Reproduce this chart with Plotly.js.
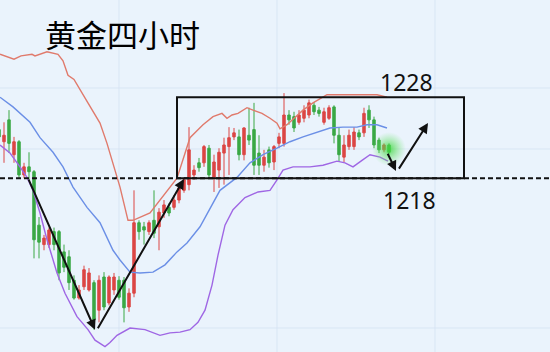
<!DOCTYPE html>
<html>
<head>
<meta charset="utf-8">
<script src="https://cdn.plot.ly/plotly-3.0.1.min.js"></script>
<style>html,body{margin:0;padding:0;background:#eaf3fc;}#chart{width:550px;height:352px;}</style>
</head>
<body>
<div id="chart"></div>
<script>
// ---- data (4-hour gold candles) ----
const candleOpen = [
  1224.0,1222.5,1225.2,1220.9,1222.5,1218.4,1219.4,1218.8,1212.2,1209.8,
  1209.8,1211.4,1211.4,1208.9,1208.3,1205.4,1203.2,1204.6,1204.2,1205.1,
  1201.7,1205.8,1202.6,1204.2,1205.4,1205.4,1202.1,1203.8,1212.5,1212.0,
  1211.4,1212.8,1212.0,1213.7,1214.4,1214.4,1215.3,1216.5,1217.2,1218.4,
  1219.9,1219.9,1221.7,1218.1,1219.0,1221.1,1221.9,1223.1,1223.1,1220.9,
  1223.3,1224.0,1221.1,1219.6,1221.5,1220.0,1222.3,1222.3,1225.8,1225.6,
  1224.9,1225.4,1225.8,1227.0,1226.4,1224.9,1225.4,1226.8,1223.3,1220.6,
  1221.9,1221.9,1223.6,1223.6,1226.4,1225.2,1222.7,1221.5,1222.1];
const candleHigh = [
  1224.6,1224.9,1226.4,1223.1,1222.7,1219.9,1221.2,1219.0,1213.2,1211.0,
  1211.9,1211.9,1211.6,1209.8,1209.1,1206.0,1204.8,1207.2,1206.9,1205.4,
  1206.0,1206.4,1206.0,1206.3,1205.9,1205.8,1204.4,1216.5,1212.8,1212.6,
  1212.8,1216.5,1214.3,1215.3,1214.9,1215.9,1217.2,1218.1,1224.3,1219.6,
  1220.5,1222.1,1222.1,1220.9,1221.7,1223.0,1224.3,1224.2,1224.0,1224.3,
  1226.7,1227.3,1223.3,1221.5,1221.9,1222.1,1223.6,1228.5,1226.4,1226.2,
  1226.4,1227.0,1227.7,1227.4,1226.8,1226.7,1227.0,1227.0,1224.3,1223.3,
  1224.0,1224.3,1224.0,1226.7,1227.0,1225.6,1223.0,1222.3,1222.3];
const candleLow = [
  1222.7,1219.9,1221.1,1219.9,1218.0,1218.0,1217.8,1208.1,1208.1,1209.1,
  1209.4,1209.1,1205.4,1206.4,1204.2,1203.0,1203.0,1204.2,1204.0,1199.3,
  1200.2,1201.7,1202.3,1203.6,1203.0,1200.2,1201.5,1203.3,1210.4,1209.8,
  1211.0,1210.6,1209.1,1213.1,1213.3,1214.1,1214.9,1216.2,1216.5,1217.8,
  1218.8,1219.4,1218.0,1216.3,1216.8,1217.2,1218.4,1222.7,1220.2,1220.2,
  1222.1,1218.4,1218.4,1218.8,1219.3,1219.0,1221.7,1221.9,1224.6,1223.7,
  1224.6,1224.9,1225.4,1225.8,1225.6,1224.6,1225.2,1222.3,1220.0,1220.0,
  1221.5,1221.5,1222.7,1223.1,1224.2,1221.7,1221.1,1221.2,1220.9];
const candleClose = [
  1223.1,1223.3,1222.3,1222.5,1218.4,1219.4,1218.8,1210.4,1210.1,1210.6,
  1211.6,1209.8,1206.3,1207.0,1205.1,1203.2,1204.2,1206.7,1206.3,1200.5,
  1205.4,1202.1,1205.8,1205.8,1203.3,1202.0,1203.8,1212.5,1211.4,1211.6,
  1212.5,1211.2,1213.8,1214.7,1213.7,1215.3,1216.8,1217.8,1221.5,1219.0,
  1219.3,1221.9,1218.4,1220.0,1221.2,1222.1,1223.0,1223.6,1220.9,1224.2,
  1222.7,1219.6,1219.6,1220.6,1219.9,1221.9,1223.1,1225.8,1225.2,1224.2,
  1225.8,1226.4,1227.3,1226.2,1226.0,1226.2,1226.7,1223.3,1220.9,1222.1,
  1223.3,1223.7,1223.1,1226.0,1225.2,1222.1,1221.5,1222.1,1221.2];
const candleIdx = candleOpen.map((_, i) => i);

// Bollinger bands (candle index, price)
const upperX = [0.2,3.0,4.4,6.6,7.2,9.6,11.8,12.8,13.8,15.0,17.4,20.2,21.6,23.2,24.2,25.8,26.8,30.2,32.2,33.8,35.6,38.2,40.8,42.8,44.6,45.6,46.6,47.8,49.6,50.8,52.6,54.2,55.6,56.2,57.6,60.8,62.8,65.6,68.8,72.2,75.6,77.6];
const upperY = [1233.3,1232.7,1233.1,1233.3,1233.1,1233.6,1233.3,1232.5,1230.7,1230.2,1227.7,1224.8,1222.3,1219.0,1216.9,1212.8,1212.8,1213.7,1215.3,1216.5,1218.0,1223.0,1224.6,1225.6,1226.0,1225.4,1225.8,1226.0,1226.7,1226.4,1226.0,1225.4,1224.8,1224.1,1224.6,1226.4,1227.3,1228.3,1228.3,1228.3,1228.3,1228.0];
const midX = [0.2,2.8,6.2,8.2,10.8,12.8,14.8,17.6,20.2,22.8,24.2,26.2,28.2,30.8,33.2,35.6,37.6,40.2,44.2,47.6,50.2,52.8,55.6,58.2,60.8,63.6,66.2,68.8,71.6,73.6,75.6,77.6];
const midY = [1228.0,1226.8,1224.9,1223.0,1221.2,1219.4,1216.9,1214.4,1212.5,1209.1,1207.9,1206.4,1206.3,1206.4,1207.3,1208.9,1210.0,1212.0,1216.5,1218.1,1219.9,1220.9,1221.7,1222.5,1223.1,1223.7,1224.2,1224.3,1224.3,1224.6,1224.6,1224.2];
const lowerX = [0.2,2.2,4.2,5.6,6.8,8.2,9.6,11.6,13.2,15.6,17.8,19.2,21.2,22.2,23.6,26.2,29.2,32.2,34.2,36.2,38.2,39.8,41.2,42.6,43.8,45.2,46.8,49.2,51.8,54.2,55.6,56.8,58.8,62.2,64.8,67.6,69.2,70.8,72.6,74.2,76.2,77.8];
const lowerY = [1222.1,1221.1,1219.4,1218.1,1216.5,1213.7,1210.4,1206.3,1203.8,1200.9,1199.3,1198.0,1197.2,1197.7,1198.6,1199.5,1199.3,1198.6,1198.9,1199.0,1199.3,1200.2,1201.7,1204.8,1208.5,1212.2,1214.1,1215.6,1216.3,1216.5,1217.8,1219.0,1219.4,1219.4,1219.6,1220.1,1219.9,1219.4,1220.2,1220.9,1220.6,1220.1];

const titleText = '黄金四小时';
const resistance = 1228;
const support = 1218;
const levelLabels = ['1228', '1218'];

// ---- traces ----
const lastI = candleIdx.length - 1;
const traces = [
  {type:'scatter', mode:'lines', x:upperX, y:upperY, line:{color:'#e07a6c', width:1.4}, hoverinfo:'skip'},
  {type:'scatter', mode:'lines', x:midX, y:midY, line:{color:'#6b8fe6', width:1.4}, hoverinfo:'skip'},
  {type:'scatter', mode:'lines', x:lowerX, y:lowerY, line:{color:'#9f66e4', width:1.4}, hoverinfo:'skip'},
  // soft glow on the latest candle: radial gradient, gradient.color is the centre colour
  {type:'scatter', mode:'markers', x:[candleIdx[lastI]], y:[candleClose[lastI] + 0.4],
   marker:{size:34, color:'rgba(120,230,120,0)',
           gradient:{type:'radial', color:'rgba(60,215,60,0.85)'}, line:{width:0, color:'rgba(0,0,0,0)'}}, hoverinfo:'skip'},
  {type:'candlestick', x:candleIdx, open:candleOpen, high:candleHigh, low:candleLow, close:candleClose,
   increasing:{line:{color:'#dc4644', width:1}, fillcolor:'#dc4644'},
   decreasing:{line:{color:'#3aa845', width:1}, fillcolor:'#3aa845'},
   whiskerwidth:0, hoverinfo:'skip'}
];

const grid = 'rgba(212,226,242,0.8)';
const layout = {
  width:550, height:352,
  margin:{l:0, r:0, t:0, b:0},
  paper_bgcolor:'#eaf3fc', plot_bgcolor:'#eaf3fc',
  showlegend:false,
  xaxis:{range:[0.2,110.2], visible:false, showgrid:false, zeroline:false, rangeslider:{visible:false}, fixedrange:true},
  yaxis:{range:[1196.54,1240], visible:false, showgrid:false, zeroline:false, fixedrange:true},
  shapes:[
    {type:'line', xref:'paper', yref:'paper', x0:119/550, x1:119/550, y0:0, y1:1, line:{color:grid, width:1}, layer:'below'},
    {type:'line', xref:'paper', yref:'paper', x0:277/550, x1:277/550, y0:0, y1:1, line:{color:grid, width:1}, layer:'below'},
    {type:'line', xref:'paper', yref:'paper', x0:435/550, x1:435/550, y0:0, y1:1, line:{color:grid, width:1}, layer:'below'},
    {type:'line', xref:'paper', yref:'paper', x0:0, x1:1, y0:1-88/352, y1:1-88/352, line:{color:grid, width:1}, layer:'below'},
    {type:'line', xref:'paper', yref:'paper', x0:0, x1:1, y0:1-149/352, y1:1-149/352, line:{color:grid, width:1}, layer:'below'},
    {type:'line', xref:'paper', yref:'paper', x0:0, x1:1, y0:1-328/352, y1:1-328/352, line:{color:grid, width:1}, layer:'below'},
    {type:'line', xref:'paper', yref:'y', x0:0, x1:1, y0:support, y1:support, line:{color:'#111', width:2, dash:'5px,3px'}},
    {type:'rect', xref:'x', yref:'y', x0:35.6, x1:93.0, y0:support, y1:resistance, line:{color:'#111', width:2}, fillcolor:'rgba(0,0,0,0)'}
  ],
  annotations:[
    {xref:'paper', yref:'paper', x:122/550, y:1-34/352, text:titleText, showarrow:false,
     font:{family:'Noto Sans CJK SC', size:31, color:'#000'}, xanchor:'center', yanchor:'middle'},
    {xref:'x', yref:'y', x:81.4, y:resistance+1.9, text:levelLabels[0], showarrow:false,
     font:{family:'Noto Sans, DejaVu Sans', size:23, color:'#111'}, xanchor:'center', yanchor:'middle'},
    {xref:'x', yref:'y', x:82.0, y:support-2.7, text:levelLabels[1], showarrow:false,
     font:{family:'Noto Sans, DejaVu Sans', size:23, color:'#111'}, xanchor:'center', yanchor:'middle'},
    {xref:'x', yref:'y', axref:'x', ayref:'y', x:19.2, y:1199.3, ax:5.8, ay:1218.0, text:'', showarrow:true,
     arrowhead:2, arrowsize:1, arrowwidth:2, arrowcolor:'#111'},
    {xref:'x', yref:'y', axref:'x', ayref:'y', x:37.0, y:1217.9, ax:19.6, ay:1199.3, text:'', showarrow:true,
     arrowhead:2, arrowsize:1, arrowwidth:2, arrowcolor:'#111'},
    {xref:'x', yref:'y', axref:'x', ayref:'y', x:79.4, y:1218.9, ax:77.6, ay:1221.2, text:'', showarrow:true,
     arrowhead:2, arrowsize:1, arrowwidth:2, arrowcolor:'#111'},
    {xref:'x', yref:'y', axref:'x', ayref:'y', x:85.8, y:1224.8, ax:79.8, ay:1219.0, text:'', showarrow:true,
     arrowhead:2, arrowsize:1, arrowwidth:2, arrowcolor:'#111'}
  ]
};

Plotly.newPlot('chart', traces, layout, {staticPlot:true, displayModeBar:false});
</script>
</body>
</html>
